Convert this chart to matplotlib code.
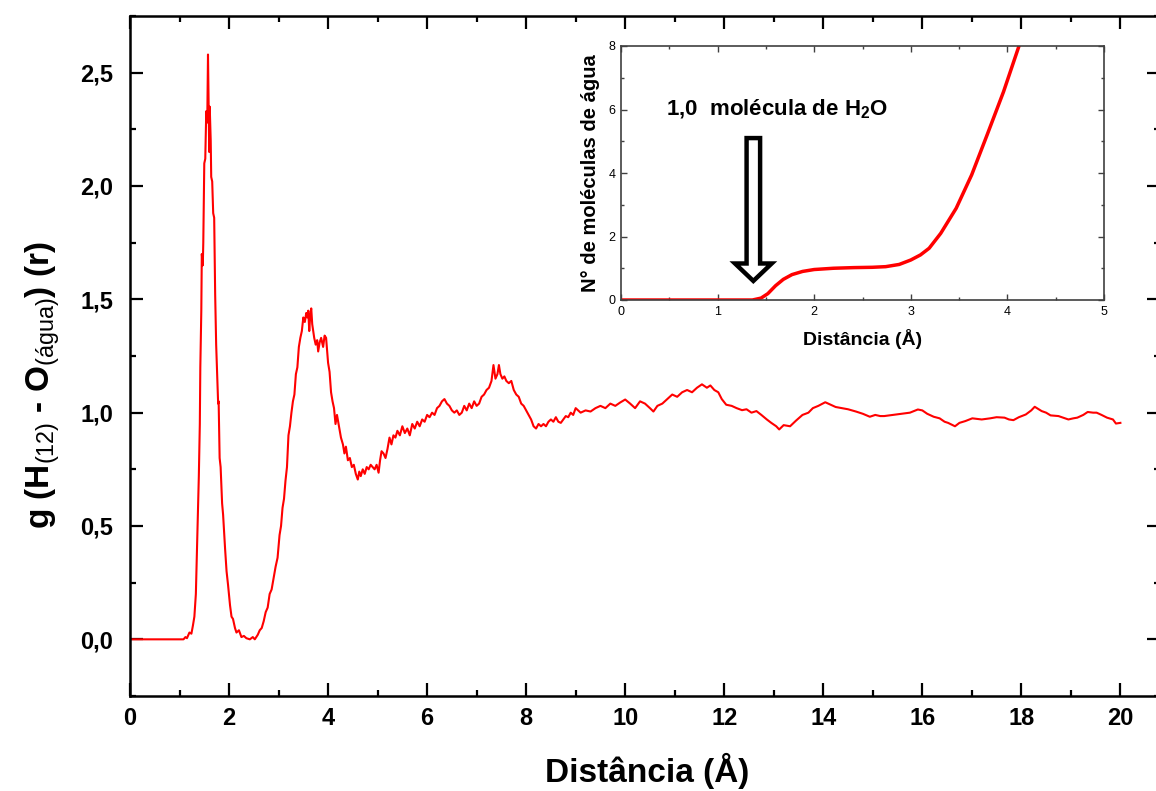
import matplotlib
matplotlib.use("Agg")
import matplotlib.pyplot as plt
from matplotlib.ticker import MultipleLocator, FuncFormatter
from matplotlib.patches import FancyArrow

plt.rcParams['font.family'] = ['Liberation Sans', 'DejaVu Sans']
plt.rcParams['mathtext.fontset'] = 'custom'
plt.rcParams['mathtext.rm'] = 'Liberation Sans'
plt.rcParams['mathtext.bf'] = 'Liberation Sans:bold'
plt.rcParams['mathtext.it'] = 'Liberation Sans:italic'

# g(r) H(12) - O(agua)
r_main = [0.0, 1.08, 1.12, 1.15, 1.2, 1.24, 1.27, 1.3, 1.33, 1.35, 1.37, 1.39, 1.41, 1.42,
          1.44, 1.45, 1.47, 1.48, 1.5, 1.52, 1.54, 1.56, 1.575, 1.59, 1.6, 1.61, 1.63, 1.64,
          1.66, 1.68, 1.70, 1.72, 1.74, 1.76, 1.78, 1.79, 1.81, 1.83, 1.86, 1.88, 1.92, 1.95,
          1.98, 2.02, 2.05, 2.08, 2.12, 2.15, 2.2, 2.25, 2.3, 2.35, 2.42, 2.48, 2.52, 2.58,
          2.62, 2.66, 2.7, 2.74, 2.78, 2.82, 2.86, 2.9, 2.94, 2.98, 3.02, 3.05, 3.08, 3.11,
          3.14, 3.17, 3.2, 3.23, 3.26, 3.29, 3.32, 3.35, 3.38, 3.41, 3.44, 3.47, 3.5, 3.53,
          3.56, 3.58, 3.6, 3.62, 3.64, 3.66, 3.68, 3.7, 3.72, 3.75, 3.78, 3.8, 3.83, 3.86,
          3.9, 3.93, 3.96, 4.0, 4.03, 4.06, 4.09, 4.12, 4.15, 4.18, 4.22, 4.26, 4.3, 4.33,
          4.36, 4.4, 4.44, 4.48, 4.52, 4.56, 4.6, 4.63, 4.66, 4.7, 4.74, 4.78, 4.82, 4.86,
          4.9, 4.94, 4.98, 5.02, 5.05, 5.08, 5.12, 5.16, 5.2, 5.24, 5.28, 5.32, 5.36, 5.4,
          5.45, 5.5, 5.55, 5.6, 5.65, 5.7, 5.75, 5.8, 5.85, 5.9, 5.95, 6.0, 6.05, 6.1,
          6.15, 6.2, 6.25, 6.3, 6.35, 6.4, 6.45, 6.5, 6.55, 6.6, 6.65, 6.7, 6.75, 6.8,
          6.85, 6.9, 6.95, 7.0, 7.05, 7.1, 7.15, 7.2, 7.25, 7.3, 7.34, 7.38, 7.42, 7.45,
          7.48, 7.52, 7.56, 7.6, 7.65, 7.7, 7.75, 7.8, 7.85, 7.9, 7.95, 8.0, 8.05, 8.1,
          8.15, 8.2, 8.25, 8.3, 8.35, 8.4, 8.45, 8.5, 8.55, 8.6, 8.65, 8.7, 8.75, 8.8,
          8.85, 8.9, 8.95, 9.0, 9.1, 9.2, 9.3, 9.4, 9.5, 9.6, 9.7, 9.8, 9.9, 10.0,
          10.1, 10.2, 10.3, 10.4, 10.5, 10.57, 10.65, 10.75, 10.85, 10.95, 11.05, 11.15, 11.25, 11.35,
          11.45, 11.55, 11.65, 11.72, 11.8, 11.88, 11.95, 12.04, 12.15, 12.25, 12.36, 12.45, 12.55, 12.65,
          12.75, 12.86, 12.95, 13.05, 13.11, 13.2, 13.33, 13.45, 13.58, 13.7, 13.79, 13.9, 14.04, 14.15,
          14.25, 14.37, 14.5, 14.66, 14.8, 14.94, 15.05, 15.15, 15.23, 15.4, 15.59, 15.75, 15.91, 16.0,
          16.1, 16.23, 16.35, 16.45, 16.52, 16.66, 16.75, 16.87, 17.01, 17.2, 17.37, 17.5, 17.66, 17.75,
          17.84, 17.95, 18.09, 18.2, 18.27, 18.35, 18.41, 18.5, 18.59, 18.75, 18.95, 19.05, 19.13, 19.25,
          19.34, 19.45, 19.52, 19.62, 19.73, 19.85, 19.91, 20.0]
g_main = [0.0, 0.0, 0.01, 0.005, 0.03, 0.025, 0.06, 0.1, 0.2, 0.38, 0.55, 0.72, 0.95, 1.2,
          1.45, 1.7, 1.65, 1.75, 2.1, 2.12, 2.33, 2.28, 2.58, 2.3, 2.15, 2.35, 2.2, 2.04,
          2.02, 1.88, 1.86, 1.52, 1.3, 1.17, 1.04, 1.05, 0.8, 0.76, 0.6, 0.55, 0.4, 0.3,
          0.24, 0.15, 0.1, 0.09, 0.05, 0.03, 0.04, 0.01, 0.015, 0.005, 0.0, 0.01, 0.0, 0.02,
          0.04, 0.05, 0.08, 0.12, 0.14, 0.2, 0.22, 0.27, 0.32, 0.36, 0.46, 0.5, 0.58, 0.62,
          0.7, 0.76, 0.9, 0.94, 1.0, 1.05, 1.08, 1.17, 1.2, 1.29, 1.33, 1.36, 1.42, 1.40,
          1.44, 1.42, 1.45, 1.36, 1.43, 1.46, 1.39, 1.36, 1.33, 1.30, 1.32, 1.27, 1.31, 1.33,
          1.29, 1.34, 1.33, 1.22, 1.18, 1.09, 1.05, 1.02, 0.95, 0.99, 0.94, 0.89, 0.86, 0.82,
          0.85, 0.79, 0.80, 0.76, 0.77, 0.73, 0.705, 0.74, 0.72, 0.75, 0.73, 0.76, 0.75, 0.77,
          0.76, 0.75, 0.77, 0.735, 0.79, 0.83, 0.82, 0.80, 0.84, 0.89, 0.86, 0.90, 0.89, 0.92,
          0.90, 0.94, 0.91, 0.93, 0.90, 0.95, 0.93, 0.96, 0.94, 0.97, 0.96, 0.99, 0.98, 1.0,
          0.99, 1.02, 1.03, 1.05, 1.06, 1.04, 1.03, 1.01, 1.0, 1.01, 0.99, 1.0, 1.03, 1.01,
          1.04, 1.02, 1.05, 1.03, 1.04, 1.07, 1.08, 1.10, 1.11, 1.14, 1.21, 1.15, 1.17, 1.21,
          1.17, 1.15, 1.16, 1.14, 1.13, 1.14, 1.10, 1.08, 1.07, 1.04, 1.03, 1.01, 0.99, 0.97,
          0.94, 0.93, 0.95, 0.94, 0.95, 0.94, 0.96, 0.97, 0.96, 0.98, 0.96, 0.955, 0.97, 0.985,
          0.98, 1.0, 0.99, 1.02, 1.0, 1.01, 1.005, 1.02, 1.03, 1.02, 1.04, 1.03, 1.045, 1.058,
          1.04, 1.02, 1.05, 1.04, 1.02, 1.005, 1.03, 1.04, 1.06, 1.08, 1.07, 1.09, 1.10, 1.09,
          1.11, 1.125, 1.11, 1.12, 1.10, 1.09, 1.06, 1.035, 1.03, 1.02, 1.011, 1.015, 1.0, 1.007,
          0.99, 0.97, 0.955, 0.94, 0.926, 0.945, 0.94, 0.965, 0.99, 1.0, 1.02, 1.03, 1.046, 1.035,
          1.025, 1.02, 1.015, 1.005, 0.995, 0.982, 0.99, 0.985, 0.985, 0.99, 0.996, 1.0, 1.014, 1.01,
          0.995, 0.982, 0.975, 0.96, 0.955, 0.94, 0.955, 0.963, 0.975, 0.97, 0.975, 0.98, 0.978, 0.97,
          0.967, 0.98, 0.992, 1.01, 1.026, 1.015, 1.007, 1.0, 0.988, 0.985, 0.97, 0.975, 0.978, 0.99,
          1.003, 1.0, 1.0, 0.99, 0.978, 0.97, 0.952, 0.955]

# running coordination number (inset)
n_r = [0.0, 1.3, 1.36, 1.45, 1.52, 1.6, 1.68, 1.77, 1.88, 2.0, 2.2, 2.41, 2.6, 2.74,
       2.88, 3.0, 3.1, 3.19, 3.31, 3.47, 3.63, 3.79, 3.96, 4.12]
n_val = [0.0, 0.0, 0.0, 0.06, 0.2, 0.45, 0.65, 0.8, 0.9, 0.96, 1.0, 1.02, 1.03, 1.05,
         1.12, 1.26, 1.42, 1.63, 2.1, 2.89, 3.94, 5.2, 6.56, 8.0]


def comma(v, pos):
    return f'{v:.1f}'.replace('.', ',')


fig = plt.figure(figsize=(11.56, 7.91), dpi=100)
ax = fig.add_axes([130 / 1156, 1 - 696 / 791, 1030 / 1156, 680 / 791])
ax.plot(r_main, g_main, color='red', lw=1.5)
ax.set_xlim(0, 20.8)
ax.set_ylim(-0.25, 2.75)
ax.xaxis.set_major_locator(MultipleLocator(2))
ax.xaxis.set_minor_locator(MultipleLocator(1))
ax.yaxis.set_major_locator(MultipleLocator(0.5))
ax.yaxis.set_minor_locator(MultipleLocator(0.25))
ax.yaxis.set_major_formatter(FuncFormatter(comma))
ax.tick_params(which='both', direction='in', top=True, right=True, width=1.6)
ax.tick_params(which='major', length=9.5)
ax.tick_params(which='minor', length=4.5)
ax.tick_params(axis='x', which='major', pad=8)
ax.tick_params(axis='y', which='major', pad=12)
for lab in ax.get_xticklabels() + ax.get_yticklabels():
    lab.set_fontsize(17)
    lab.set_fontweight('bold')
for s in ax.spines.values():
    s.set_linewidth(1.8)

ax.set_xlabel('Distância (Å)', fontsize=24, fontweight='bold')
ax.xaxis.set_label_coords(0.502, -0.083)
ax.xaxis.label.set_va('top')
ax.set_ylabel('$\\mathbf{g\\ (H}_{\\mathrm{(12)}}\\mathbf{\\ \u2010\\ O}_{\\mathrm{(água)}}\\mathbf{)\\ (r)}$',
              fontsize=24)
ax.yaxis.set_label_coords(-0.066, 0.457)

# inset
ins = fig.add_axes([621 / 1156, 1 - 300 / 791, 483 / 1156, 254 / 791])
ins.plot(n_r, n_val, color='red', lw=2.5)
ins.set_xlim(0, 5)
ins.set_ylim(0, 8)
ins.xaxis.set_major_locator(MultipleLocator(1))
ins.xaxis.set_minor_locator(MultipleLocator(0.5))
ins.yaxis.set_major_locator(MultipleLocator(2))
ins.yaxis.set_minor_locator(MultipleLocator(1))
ins.tick_params(which='both', direction='in', top=True, right=True, labelsize=9,
                color='#404040', width=1)
ins.tick_params(which='major', length=4, pad=4)
ins.tick_params(which='minor', length=2.5)
for s in ins.spines.values():
    s.set_linewidth(1.2)
    s.set_color('#404040')
ins.set_xlabel('Distância (Å)', fontsize=14, fontweight='bold', labelpad=8)
ins.set_ylabel('N° de moléculas de água', fontsize=14.5, fontweight='bold', labelpad=6)

ins.add_patch(FancyArrow(1.37, 5.1, 0, -4.5, width=0.14, head_width=0.38, head_length=0.55,
                         length_includes_head=True, fc='white', ec='black', lw=3.2))
ins.text(0.47, 6.0, r'1,0  molécula de H$_\mathbf{2}$O', fontsize=16, fontweight='bold',
         va='center', ha='left')

fig.savefig('out.png', dpi=100)
